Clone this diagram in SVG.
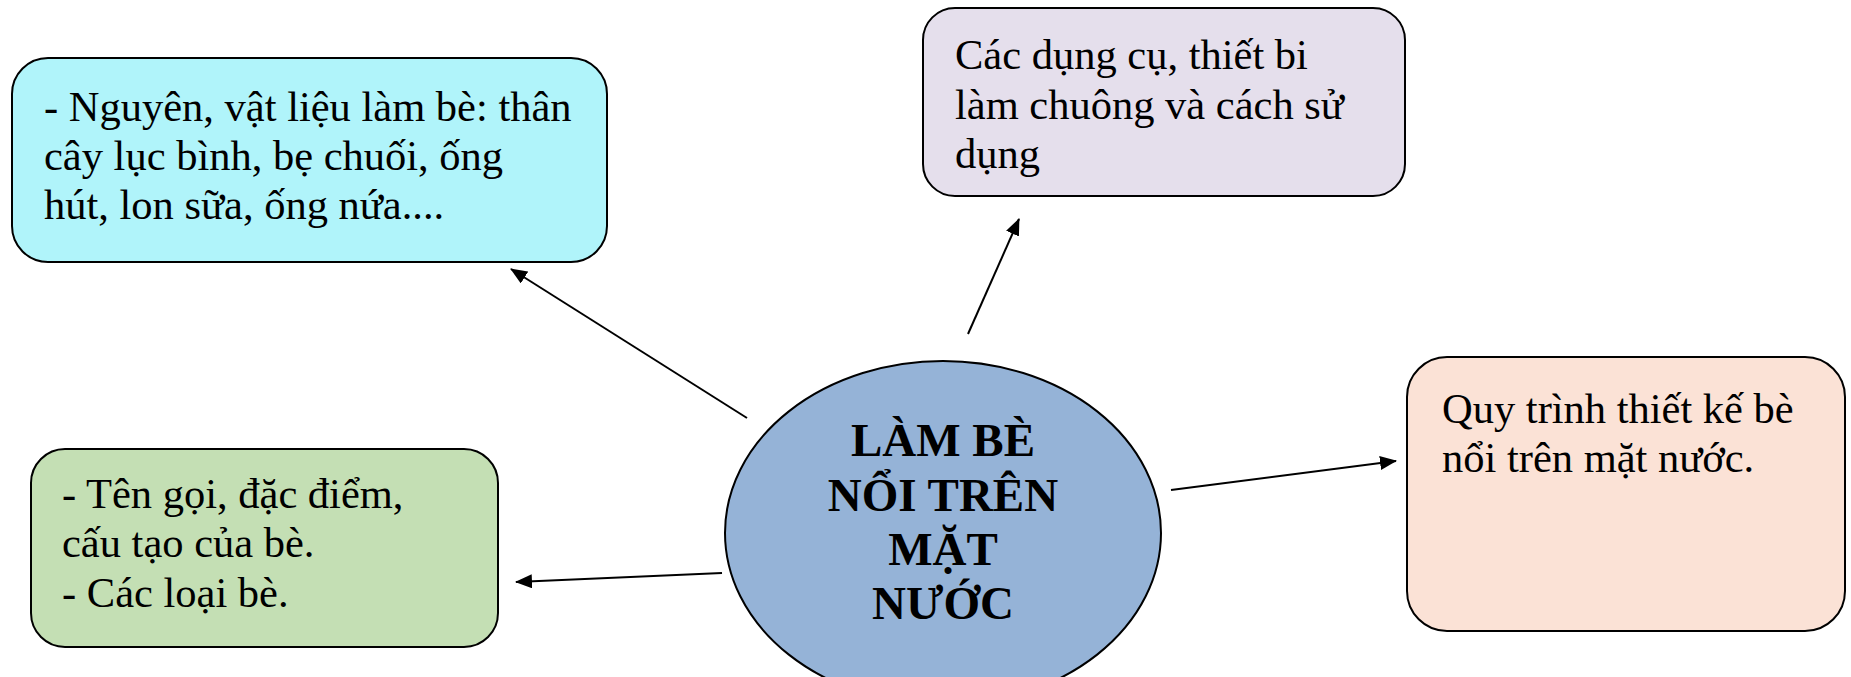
<svg xmlns="http://www.w3.org/2000/svg" width="1851" height="677" viewBox="0 0 1851 677">
<style>
.box{stroke:#000;stroke-width:2}
.t{font-family:"Liberation Serif","Times New Roman",serif;font-size:42.5px;fill:#000}
.c{font-family:"Liberation Serif","Times New Roman",serif;font-size:47px;font-weight:bold;fill:#000;text-anchor:middle}
.conn{stroke:#000;stroke-width:2;fill:none;marker-end:url(#ah)}
</style>
<defs>
<marker id="ah" markerUnits="userSpaceOnUse" markerWidth="17" markerHeight="14" refX="16" refY="7" orient="auto">
<path d="M0,0 L17,7 L0,14 z" fill="#000"/>
</marker>
</defs>
<rect width="1851" height="677" fill="#fff"/>
<g id="connectors">
<line class="conn" x1="747" y1="418" x2="511" y2="269"/>
<line class="conn" x1="968" y1="334" x2="1019" y2="219"/>
<line class="conn" x1="1171" y1="490" x2="1396" y2="461"/>
<line class="conn" x1="722" y1="573" x2="516" y2="582"/>
</g>
<g id="node-materials">
<rect class="box" x="12" y="58" width="595" height="204" rx="36" fill="#B0F4FA"/>
<text class="t" x="44" y="121">- Nguyên, vật liệu làm bè: thân</text>
<text class="t" x="44" y="170">cây lục bình, bẹ chuối, ống</text>
<text class="t" x="44" y="219">hút, lon sữa, ống nứa....</text>
</g>
<g id="node-tools">
<rect class="box" x="923" y="8" width="482" height="188" rx="32" fill="#E5DFEC"/>
<text class="t" x="955" y="69">Các dụng cụ, thiết bi</text>
<text class="t" x="955" y="119">làm chuông và cách sử</text>
<text class="t" x="955" y="168">dụng</text>
</g>
<g id="node-types">
<rect class="box" x="31" y="449" width="467" height="198" rx="34" fill="#C4DFB4"/>
<text class="t" x="62" y="508">- Tên gọi, đặc điểm,</text>
<text class="t" x="62" y="557">cấu tạo của bè.</text>
<text class="t" x="62" y="607">- Các loại bè.</text>
</g>
<g id="node-process">
<rect class="box" x="1407" y="357" width="438" height="274" rx="40" fill="#FBE2D6"/>
<text class="t" x="1442" y="423">Quy trình thiết kế bè</text>
<text class="t" x="1442" y="472">nổi trên mặt nước.</text>
</g>
<g id="node-center">
<ellipse class="box" cx="943" cy="533" rx="218" ry="172" fill="#95B3D7"/>
<text class="c" x="943" y="456">LÀM BÈ</text>
<text class="c" x="943" y="511">NỔI TRÊN</text>
<text class="c" x="943" y="565">MẶT</text>
<text class="c" x="943" y="619">NƯỚC</text>
</g>
</svg>
